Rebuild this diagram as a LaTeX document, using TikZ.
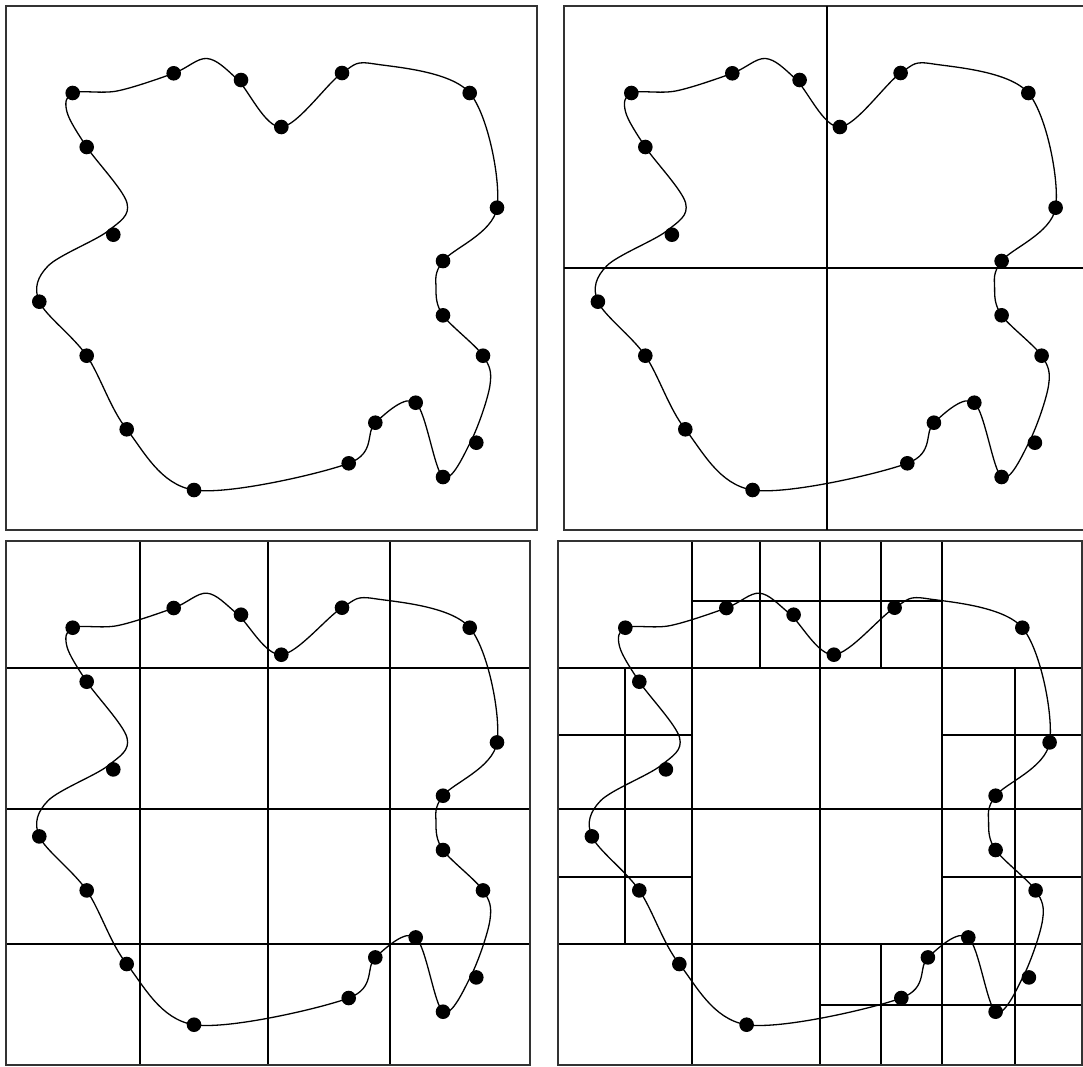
\documentclass[tikz,border=0pt]{standalone}
\tikzset{
  blobcurve/.style={line width=1.3pt, black},
  blobdot/.style={circle, fill=black, inner sep=0pt, minimum size=14.6pt},
  panelbox/.style={line width=2pt, black!80},
  gridline/.style={line width=2pt, black},
}
\newcommand\myblob[2]{%
  \draw[blobcurve] plot[smooth cycle, tension=0.55] coordinates {
    (72.7,93) (117,91) (173.7,73.3) (207,58.5) (237,79) (281.3,#2) (342,73) (375,64)
    (469.7,93) (497,207.7) (443,261) (436,288) (443,315.3) (483,355.7)
    (490,385) (471,441) (443,477) (415.7,402.7) (375.3,422.7) (348.7,463.3)
    (194,490) (126.7,429.3) (86.7,355.7) (39.3,301.7) (48,266) (108,231)
    (127,203) (86.7,147) (67,112)};
  \foreach \px/\py [count=\i] in {72.7/93, 173.7/73.3, 241/80, 281.3/#2,
      342/73, 469.7/93, 497/207.7, 443/261, 443/315.3, 483/355.7, 476.3/442.7,
      443/477, 415.7/402.7, 375.3/422.7, 348.7/463.3, 194/490, 126.7/429.3,
      86.7/355.7, 39.3/301.7, 113.3/234.7, 86.7/147}
    \node[blobdot] (#1\i) at (\px,\py) {};
}
\begin{document}
\begin{tikzpicture}[x=1pt, y=-1pt]
\useasboundingbox (0,0) rectangle (1083,1066);
% panel 1
\draw[panelbox] (6,6) rectangle (537,530);
% panel 2
\draw[panelbox] (1085,6) -- (564,6) -- (564,530) -- (1085,530);
\draw[gridline] (827,6) -- (827,530);
\draw[gridline] (564,268) -- (1085,268);
% panel 3
\draw[gridline] (140,541) -- (140,1065);
\draw[gridline] (268,541) -- (268,1065);
\draw[gridline] (390,541) -- (390,1065);
\draw[gridline] (6,668) -- (530,668);
\draw[gridline] (6,809) -- (530,809);
\draw[gridline] (6,944) -- (530,944);
\draw[panelbox] (6,541) rectangle (530,1065);
% panel 4
\draw[gridline] (625,668) -- (625,944);
\draw[gridline] (692,541) -- (692,1065);
\draw[gridline] (760,541) -- (760,668);
\draw[gridline] (820,541) -- (820,1065);
\draw[gridline] (881,541) -- (881,668);
\draw[gridline] (881,944) -- (881,1065);
\draw[gridline] (942,541) -- (942,1065);
\draw[gridline] (1015,668) -- (1015,1065);
\draw[gridline] (692,601) -- (942,601);
\draw[gridline] (558,668) -- (1082,668);
\draw[gridline] (558,735) -- (692,735);
\draw[gridline] (942,735) -- (1082,735);
\draw[gridline] (558,809) -- (1082,809);
\draw[gridline] (558,877) -- (692,877);
\draw[gridline] (942,877) -- (1082,877);
\draw[gridline] (558,944) -- (1082,944);
\draw[gridline] (820,1005) -- (1082,1005);
\draw[panelbox] (558,541) rectangle (1082,1065);
% curves and dots
\begin{scope}\myblob{a}{127}\end{scope}
\begin{scope}[shift={(558.6,0)}]\myblob{b}{127}\end{scope}
\begin{scope}[shift={(0,534.7)}]\myblob{c}{120}\end{scope}
\begin{scope}[shift={(552.6,534.7)}]\myblob{d}{120}\end{scope}
\end{tikzpicture}
\end{document}
